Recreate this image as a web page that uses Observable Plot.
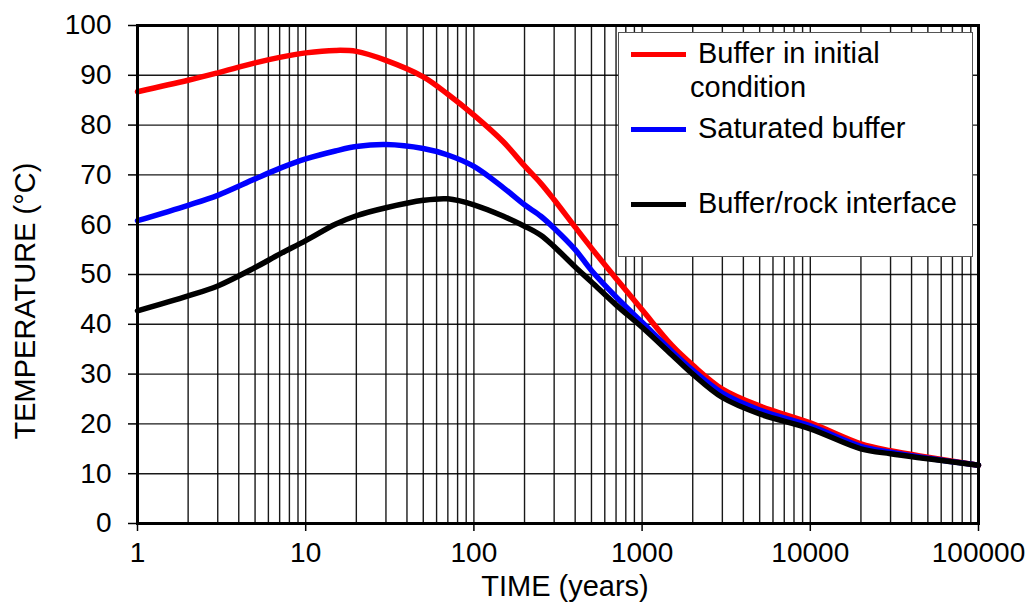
<!DOCTYPE html>
<html>
<head>
<meta charset="utf-8">
<script src="https://cdn.jsdelivr.net/npm/d3@7"></script>
<script src="https://cdn.jsdelivr.net/npm/@observablehq/plot@0.6"></script>
<style>
  html, body { margin: 0; padding: 0; background: #fff; }
  #wrap { position: relative; width: 1028px; height: 606px; font-family: "Liberation Sans", Arial, sans-serif; color: #000; }
  #wrap svg { position: absolute; left: 0; top: 0; }
  .ylab { position: absolute; left: 25px; top: 301px; transform: translate(-50%, -50%) rotate(-90deg); font-size: 29px; line-height: 29px; white-space: nowrap; }
  .xlab { position: absolute; left: 565px; top: 570px; transform: translateX(-50%); font-size: 29px; line-height: 32px; white-space: nowrap; }
  .legend { position: absolute; left: 618px; top: 32px; width: 355px; height: 225px; border: 1.5px solid #555; background: #fff; box-sizing: border-box; }
  .sw { position: absolute; left: 12px; width: 55px; height: 5px; }
  .lt { position: absolute; font-size: 29px; line-height: 34px; white-space: nowrap; }
</style>
</head>
<body>
<div id="wrap"></div>
<script>
const times = [1,2,3,5,7,10,15,20,30,50,70,100,150,200,250,300,400,500,700,1000,1500,2000,3000,5000,10000,20000,30000,50000,100000];
const bufferInitial = [86.7,89.0,90.5,92.5,93.6,94.5,95.0,94.8,93.0,89.7,86.2,82.0,76.6,71.8,68.3,65.0,59.5,55.3,49.2,42.9,35.8,31.8,27.0,23.6,20.2,16.0,14.6,13.3,11.7];
const saturatedBuffer = [60.8,63.9,65.9,69.2,71.3,73.2,74.8,75.7,76.1,75.3,74.0,71.7,67.4,64.0,61.7,59.3,55.0,50.8,45.5,40.4,34.6,30.8,26.2,22.8,19.6,15.5,14.3,13.1,11.7];
const bufferRock = [42.7,45.7,47.7,51.4,54.1,56.8,60.1,61.8,63.4,64.9,65.2,64.0,61.7,59.7,57.9,55.6,51.5,48.5,43.9,39.4,33.9,30.0,25.3,22.0,19.0,15.0,14.0,13.0,11.7];
const seriesNames = ["Buffer in initial condition", "Saturated buffer", "Buffer/rock interface"];
const seriesColors = ["#ff0000", "#0000ff", "#000000"];
const xTicks = [1,10,100,1000,10000,100000];
const yTicks = [0,10,20,30,40,50,60,70,80,90,100];

const seriesValues = [bufferInitial, saturatedBuffer, bufferRock];
const data = [];
seriesNames.forEach((name, i) => {
  times.forEach((t, j) => data.push({series: name, time: t, temp: seriesValues[i][j]}));
});
const minorX = [];
for (let d = 1; d < 100000; d *= 10) for (let k = 1; k <= 9; k++) minorX.push(d * k);
minorX.push(100000);

const chart = Plot.plot({
  width: 1028,
  height: 606,
  marginLeft: 137,
  marginRight: 50,
  marginTop: 25,
  marginBottom: 83,
  style: {fontFamily: "'Liberation Sans', Arial, sans-serif", fontSize: "28px", color: "#000", background: "#fff"},
  x: {type: "log", domain: [1, 100000]},
  y: {domain: [0, 100]},
  color: {domain: seriesNames, range: seriesColors},
  marks: [
    Plot.ruleX(minorX, {stroke: "#000", strokeWidth: 1.4, strokeOpacity: 0.9}),
    Plot.ruleY(yTicks, {stroke: "#000", strokeWidth: 1.4, strokeOpacity: 0.9}),
    Plot.axisX({ticks: xTicks, tickFormat: d => String(d), tickSize: 8, tickPadding: 11, strokeWidth: 1.5, label: null, fontSize: 28}),
    Plot.axisY({ticks: yTicks, tickFormat: d => String(d), tickSize: 9, tickPadding: 17, strokeWidth: 1.5, label: null, fontSize: 28}),
    Plot.line(data, {x: "time", y: "temp", z: "series", stroke: "series", strokeWidth: 5.5, curve: "catmull-rom"}),
    Plot.frame({stroke: "#000", strokeWidth: 3})
  ]
});

const wrap = document.getElementById("wrap");
wrap.appendChild(chart);

const yl = document.createElement("div");
yl.className = "ylab"; yl.textContent = "TEMPERATURE (°C)";
wrap.appendChild(yl);
const xl = document.createElement("div");
xl.className = "xlab"; xl.textContent = "TIME (years)";
wrap.appendChild(xl);

const legend = document.createElement("div");
legend.className = "legend";
const legendRows = [
  {lines: ["Buffer in initial", "condition"], sw: 21, txt: 3},
  {lines: ["Saturated buffer"], sw: 96, txt: 78},
  {lines: ["Buffer/rock interface"], sw: 171, txt: 153}
];
legendRows.forEach((r, i) => {
  const sw = document.createElement("div");
  sw.className = "sw";
  sw.style.background = seriesColors[i];
  sw.style.top = (r.sw - 2.5) + "px";
  legend.appendChild(sw);
  r.lines.forEach((ln, k) => {
    const t = document.createElement("div");
    t.className = "lt";
    t.textContent = ln;
    t.style.left = (k === 0 ? 79 : 71) + "px";
    t.style.top = (r.txt + k * 34) + "px";
    legend.appendChild(t);
  });
});
wrap.appendChild(legend);
</script>
</body>
</html>
